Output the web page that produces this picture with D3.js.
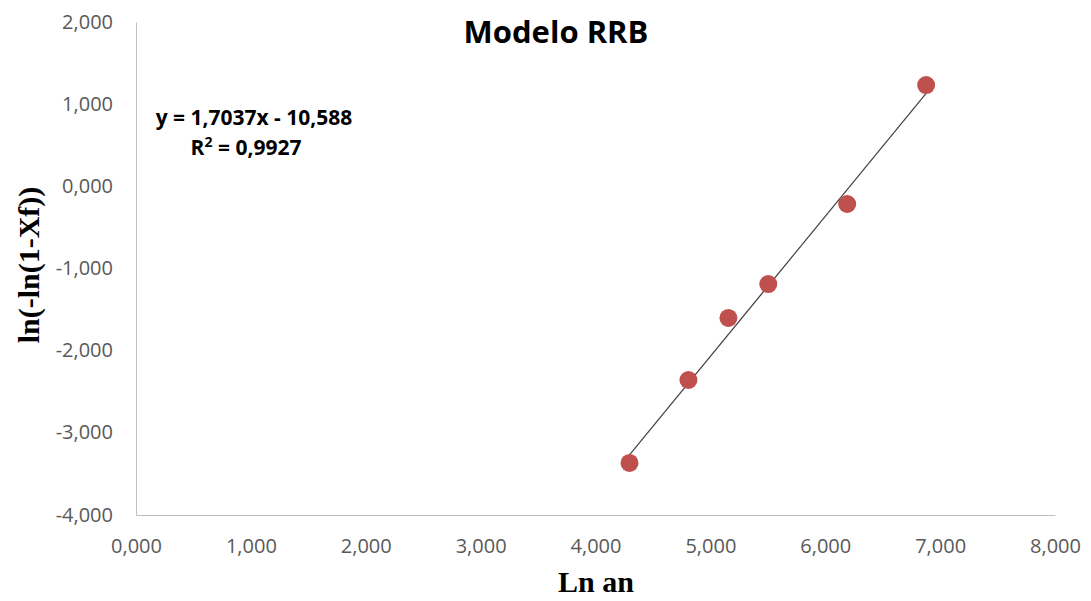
<!DOCTYPE html>
<html>
<head>
<meta charset="utf-8">
<script src="https://cdn.jsdelivr.net/npm/d3@7"></script>
<style>
  body { margin: 0; background: #fff; }
  .tick text { fill: #595959; font-family: "Open Sans", "Noto Sans", sans-serif; font-size: 20px; }
</style>
</head>
<body>
<div id="chart"></div>
<script>
// data
var lnAn = [4.296, 4.809, 5.157, 5.504, 6.191, 6.878];
var lnLn = [-3.367, -2.357, -1.602, -1.189, -0.215, 1.233];
var slope = 1.7037, intercept = -10.588;
var xTicks = [0, 1, 2, 3, 4, 5, 6, 7, 8];
var yTicks = [-4, -3, -2, -1, 0, 1, 2];

var W = 1091, H = 601;
var margin = {top: 22, right: 36, bottom: 86, left: 136};

var svg = d3.select("#chart").append("svg")
  .attr("width", W)
  .attr("height", H);

var x = d3.scaleLinear().domain([0, 8]).range([margin.left, W - margin.right]);
var y = d3.scaleLinear().domain([-4, 2]).range([H - margin.bottom, margin.top]);

// excel style: comma decimal
var fmt = function(d) { return d.toFixed(3).replace(".", ","); };

// x axis
var gx = svg.append("g")
  .attr("transform", "translate(0," + y(-4) + ")")
  .call(d3.axisBottom(x).tickValues(xTicks).tickFormat(fmt).tickSize(0).tickPadding(24));
gx.select(".domain").attr("stroke", "#bfbfbf");

// y axis
var gy = svg.append("g")
  .attr("transform", "translate(" + x(0) + ",0)")
  .call(d3.axisLeft(y).tickValues(yTicks).tickFormat(fmt).tickSize(0).tickPadding(23));
gy.select(".domain").attr("stroke", "#bfbfbf");
gy.selectAll(".tick text").attr("dy", "0.3em");

// trendline
var x0 = d3.min(lnAn), x1 = d3.max(lnAn);
svg.append("line")
  .attr("x1", x(x0)).attr("y1", y(slope * x0 + intercept))
  .attr("x2", x(x1)).attr("y2", y(slope * x1 + intercept))
  .style("stroke", "#404040")
  .style("stroke-width", 1.2);

// points
svg.selectAll(".pt")
  .data(lnAn)
  .enter()
  .append("circle")
  .attr("class", "pt")
  .attr("cx", function(d) { return x(d); })
  .attr("cy", function(d, i) { return y(lnLn[i]); })
  .attr("r", 9)
  .style("fill", "#c0504d");

// title
svg.append("text")
  .attr("x", 556).attr("y", 43)
  .attr("text-anchor", "middle")
  .style("font-family", "'Open Sans', sans-serif")
  .style("font-weight", "bold")
  .style("font-size", "31px")
  .style("fill", "#000")
  .text("Modelo RRB");

// equation
svg.append("text")
  .attr("x", 254).attr("y", 125)
  .attr("text-anchor", "middle")
  .style("font-family", "'Open Sans', sans-serif")
  .style("font-weight", "bold")
  .style("font-size", "21px")
  .text("y = 1,7037x - 10,588");

svg.append("text")
  .attr("x", 246).attr("y", 155)
  .attr("text-anchor", "middle")
  .style("font-family", "'Open Sans', sans-serif")
  .style("font-weight", "bold")
  .style("font-size", "21px")
  .html("R<tspan dy='-8' font-size='14px'>2</tspan><tspan dy='8'> = 0,9927</tspan>");

// axis titles
svg.append("text")
  .attr("x", 596).attr("y", 592)
  .attr("text-anchor", "middle")
  .style("font-family", "'Liberation Serif', 'DejaVu Serif', serif")
  .style("font-weight", "bold")
  .style("font-size", "30px")
  .text("Ln an");

svg.append("text")
  .attr("transform", "translate(39,265) rotate(-90)")
  .attr("text-anchor", "middle")
  .style("font-family", "'Liberation Serif', 'DejaVu Serif', serif")
  .style("font-weight", "bold")
  .style("font-size", "30px")
  .text("ln(-ln(1-Xf))");
</script>
</body>
</html>
